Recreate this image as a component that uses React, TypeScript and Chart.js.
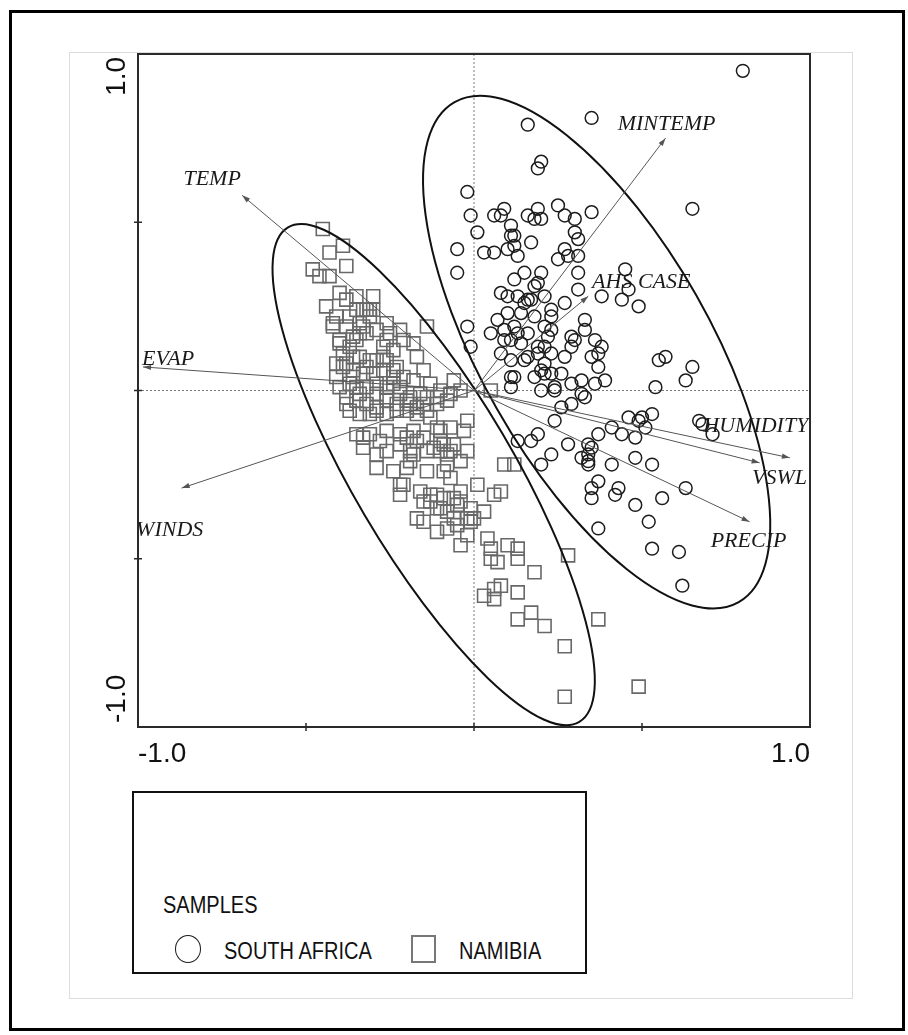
import React, { useEffect, useRef } from 'react';
import { Chart, registerables } from 'chart.js';

Chart.register(...registerables);

// Sample scores on the first two ordination axes
const southAfricaScores: [number, number][] = [
  [0.80, 0.95], [0.35, 0.81], [0.16, 0.79], [0.20, 0.68], [0.19, 0.66], [-0.02, 0.59], [-0.01, 0.52],
  [0.06, 0.52], [0.08, 0.52], [0.09, 0.54], [0.01, 0.47], [0.11, 0.49], [0.11, 0.46], [0.12, 0.46],
  [0.16, 0.52], [0.18, 0.51], [0.19, 0.54], [0.20, 0.51], [0.25, 0.55], [0.27, 0.52], [0.30, 0.51],
  [0.35, 0.53], [0.65, 0.54], [-0.05, 0.42], [0.03, 0.41], [0.06, 0.41], [0.10, 0.42], [0.12, 0.43],
  [0.13, 0.40], [0.17, 0.44], [0.30, 0.47], [0.31, 0.45], [0.27, 0.42], [0.28, 0.40], [0.31, 0.40],
  [0.25, 0.39], [-0.05, 0.35], [0.15, 0.35], [0.12, 0.33], [0.20, 0.35], [0.19, 0.32], [0.18, 0.31],
  [0.31, 0.35], [0.31, 0.30], [0.45, 0.36], [0.46, 0.30], [0.38, 0.28], [0.44, 0.27], [0.49, 0.25],
  [0.08, 0.29], [0.10, 0.28], [0.13, 0.28], [0.15, 0.26], [0.16, 0.27], [0.17, 0.27], [0.21, 0.28],
  [0.27, 0.26], [0.10, 0.23], [0.07, 0.21], [0.14, 0.23], [0.18, 0.22], [0.23, 0.24], [0.23, 0.22],
  [0.33, 0.21], [0.33, 0.18], [-0.02, 0.19], [0.05, 0.17], [0.09, 0.18], [0.12, 0.19], [0.13, 0.17],
  [0.16, 0.17], [0.21, 0.19], [0.23, 0.18], [0.22, 0.16], [0.29, 0.16], [0.30, 0.15], [0.36, 0.15],
  [-0.01, 0.13], [0.09, 0.15], [0.11, 0.15], [0.14, 0.14], [0.38, 0.13], [0.19, 0.13], [0.21, 0.13],
  [0.08, 0.11], [0.11, 0.09], [0.15, 0.09], [0.16, 0.10], [0.19, 0.11], [0.21, 0.08], [0.20, 0.06],
  [0.21, 0.05], [0.23, 0.05], [0.23, 0.11], [0.27, 0.10], [0.29, 0.13], [0.35, 0.10], [0.37, 0.11],
  [0.37, 0.07], [0.26, 0.05], [0.18, 0.04], [0.20, 0.00], [0.24, 0.01], [0.24, 0.00], [0.29, 0.02],
  [0.32, 0.03], [0.36, 0.02], [0.39, 0.03], [0.11, 0.04], [0.12, 0.04], [0.11, 0.01], [0.32, -0.01],
  [0.33, -0.02], [0.26, -0.05], [0.29, -0.04], [0.24, -0.09], [0.54, 0.01], [0.55, 0.09], [0.57, 0.10],
  [0.65, 0.07], [0.63, 0.03], [0.67, -0.09], [0.68, -0.10], [0.71, -0.13], [0.46, -0.08], [0.50, -0.08],
  [0.53, -0.07], [0.49, -0.09], [0.51, -0.11], [0.41, -0.11], [0.44, -0.13], [0.48, -0.14], [0.37, -0.13],
  [0.13, -0.15], [0.17, -0.15], [0.19, -0.13], [0.28, -0.16], [0.23, -0.19], [0.20, -0.22], [0.34, -0.16],
  [0.35, -0.17], [0.34, -0.19], [0.34, -0.21], [0.34, -0.22], [0.32, -0.20], [0.41, -0.22], [0.48, -0.20],
  [0.53, -0.22], [0.37, -0.27], [0.35, -0.29], [0.35, -0.32], [0.43, -0.29], [0.42, -0.31], [0.48, -0.34],
  [0.56, -0.32], [0.63, -0.29], [0.52, -0.39], [0.37, -0.41], [0.53, -0.47], [0.61, -0.48], [0.62, -0.58],
];

const namibiaScores: [number, number][] = [
  [-0.45, 0.48], [-0.39, 0.43], [-0.43, 0.41], [-0.38, 0.37], [-0.48, 0.36], [-0.46, 0.34], [-0.43, 0.34],
  [-0.40, 0.29], [-0.44, 0.25], [-0.41, 0.22], [-0.35, 0.24], [-0.33, 0.24], [-0.32, 0.24], [-0.31, 0.24],
  [-0.30, 0.24], [-0.42, 0.20], [-0.42, 0.19], [-0.38, 0.19], [-0.33, 0.19], [-0.31, 0.22], [-0.26, 0.20],
  [-0.22, 0.18], [-0.14, 0.19], [-0.34, 0.17], [-0.32, 0.17], [-0.40, 0.15], [-0.36, 0.16], [-0.40, 0.14],
  [-0.37, 0.13], [-0.35, 0.15], [-0.27, 0.13], [-0.26, 0.15], [-0.24, 0.12], [-0.39, 0.11], [-0.36, 0.10],
  [-0.34, 0.10], [-0.31, 0.09], [-0.29, 0.09], [-0.27, 0.10], [-0.26, 0.09], [-0.23, 0.07], [-0.17, 0.10],
  [-0.15, 0.06], [-0.39, 0.07], [-0.36, 0.06], [-0.33, 0.05], [-0.30, 0.05], [-0.27, 0.06], [-0.24, 0.06],
  [-0.40, 0.01], [-0.37, 0.02], [-0.35, 0.01], [-0.32, 0.01], [-0.29, 0.02], [-0.26, 0.01], [-0.24, 0.02],
  [-0.22, 0.01], [-0.38, -0.02], [-0.34, -0.01], [-0.29, -0.01], [-0.26, -0.02], [-0.22, -0.01], [-0.19, -0.02],
  [-0.16, -0.01], [-0.10, 0.00], [-0.06, 0.03], [-0.04, 0.00], [-0.41, 0.08], [-0.38, 0.08], [-0.24, 0.04],
  [-0.21, 0.04], [-0.18, 0.03], [-0.13, 0.02], [-0.36, 0.04], [-0.41, 0.04], [-0.32, 0.07], [-0.19, -0.04],
  [-0.15, -0.04], [-0.29, 0.18], [-0.25, 0.17], [-0.21, 0.15], [-0.18, 0.14], [-0.34, 0.20], [-0.37, 0.22],
  [-0.38, 0.27], [-0.35, 0.28], [-0.30, 0.28], [-0.38, -0.04], [-0.35, -0.03], [-0.32, -0.04], [-0.29, -0.05],
  [-0.26, -0.03], [-0.23, -0.04], [-0.20, -0.03], [-0.17, -0.05], [-0.14, -0.02], [-0.11, -0.04], [-0.08, -0.03],
  [-0.37, -0.06], [-0.34, -0.07], [-0.31, -0.07], [-0.29, -0.06], [-0.26, -0.07], [-0.23, -0.06], [-0.20, -0.06],
  [-0.17, -0.07], [-0.14, -0.06], [-0.13, -0.08], [-0.02, -0.09], [-0.35, -0.13], [-0.33, -0.14], [-0.31, -0.13],
  [-0.28, -0.15], [-0.26, -0.12], [-0.22, -0.13], [-0.20, -0.14], [-0.18, -0.12], [-0.17, -0.15], [-0.15, -0.14],
  [-0.10, -0.12], [-0.07, -0.11], [-0.03, -0.12], [-0.09, -0.16], [-0.06, -0.16], [-0.02, -0.18], [-0.11, -0.11],
  [-0.10, -0.15], [-0.10, -0.18], [-0.07, -0.18], [-0.33, -0.17], [-0.29, -0.19], [-0.26, -0.18], [-0.22, -0.16],
  [-0.19, -0.18], [-0.12, -0.17], [-0.19, -0.21], [-0.18, -0.19], [-0.14, -0.18], [-0.08, -0.19], [-0.04, -0.21],
  [-0.08, -0.22], [-0.29, -0.23], [-0.24, -0.24], [-0.20, -0.23], [-0.14, -0.24], [-0.09, -0.24], [-0.07, -0.26],
  [-0.22, -0.28], [-0.21, -0.28], [-0.22, -0.31], [-0.16, -0.30], [-0.13, -0.31], [-0.11, -0.31], [-0.09, -0.32],
  [-0.06, -0.32], [-0.04, -0.30], [-0.15, -0.33], [-0.13, -0.33], [-0.11, -0.35], [-0.08, -0.36], [-0.05, -0.34],
  [-0.04, -0.33], [-0.01, -0.35], [0.03, -0.36], [0.00, -0.38], [-0.17, -0.38], [-0.15, -0.39], [-0.11, -0.42],
  [-0.05, -0.40], [-0.02, -0.43], [-0.04, -0.46], [0.01, -0.28], [0.06, -0.31], [0.08, -0.30], [0.09, -0.22],
  [0.12, -0.22], [0.04, -0.44], [0.05, -0.47], [0.05, -0.50], [0.10, -0.46], [0.13, -0.47], [0.13, -0.50],
  [-0.10, -0.35], [-0.06, -0.38], [-0.02, -0.38], [-0.01, -0.39], [-0.08, -0.41], [0.07, -0.51], [0.28, -0.49],
  [0.18, -0.54], [0.03, -0.61], [0.06, -0.62], [0.06, -0.59], [0.08, -0.58], [0.13, -0.60], [0.17, -0.66],
  [0.13, -0.68], [0.21, -0.70], [0.37, -0.68], [0.27, -0.76], [0.49, -0.88], [0.27, -0.91], [0.05, 0.00],
  [-0.07, -0.01], [-0.11, -0.02],
];

// Environmental variable vectors (biplot arrows)
const variableNames = ['TEMP', 'MINTEMP', 'AHS CASE', 'HUMIDITY', 'VSWL', 'PRECIP', 'EVAP', 'WINDS'];
const variableX = [-0.69, 0.57, 0.34, 0.94, 0.85, 0.82, -0.985, -0.87];
const variableY = [0.58, 0.75, 0.28, -0.20, -0.215, -0.39, 0.07, -0.29];

// Group ellipses: centre, semi-axes (axis units) and tilt in degrees
const ellipseGroups = ['SOUTH AFRICA', 'NAMIBIA'];
const ellipseCenterX = [0.365, -0.12];
const ellipseCenterY = [0.114, -0.25];
const ellipseSemiMajor = [0.856, 0.854];
const ellipseSemiMinor = [0.341, 0.238];
const ellipseTiltDeg = [-60.4, -59.5];

// Axis tick labels and minor tick positions
const axisTickValues = [-1, 1];
const axisTickLabels = ['-1.0', '1.0'];
const minorTickValues = [-0.5, 0, 0.5];

// Label placement (pixels, relative to arrow tip)
const labelOffsets: [number, number][] = [
  [-30, -16], [1, -14], [53, -14], [-34, -32], [20, 15], [-1, 19], [25, -8], [-12, 42],
];

const SANS = '"Liberation Sans", Arial, Helvetica, sans-serif';
const SERIF = '"Liberation Serif", "Times New Roman", Times, serif';

const biplotPlugin = {
  id: 'biplotDecorations',
  beforeDatasetsDraw(chart: any) {
    const { ctx, chartArea, scales } = chart;
    const xs = scales.x;
    const ys = scales.y;
    const x0 = xs.getPixelForValue(0);
    const y0 = ys.getPixelForValue(0);
    ctx.save();
    ctx.strokeStyle = '#7a7a7a';
    ctx.lineWidth = 1;
    ctx.setLineDash([2, 2]);
    ctx.beginPath();
    ctx.moveTo(x0, chartArea.top);
    ctx.lineTo(x0, chartArea.bottom);
    ctx.moveTo(chartArea.left, y0);
    ctx.lineTo(chartArea.right, y0);
    ctx.stroke();
    ctx.restore();
  },
  afterDatasetsDraw(chart: any) {
    const { ctx, chartArea, scales } = chart;
    const xs = scales.x;
    const ys = scales.y;
    const unitX = xs.getPixelForValue(1) - xs.getPixelForValue(0);
    const unitY = ys.getPixelForValue(0) - ys.getPixelForValue(1);

    ctx.save();
    // ellipses
    ctx.strokeStyle = '#111';
    ctx.lineWidth = 2;
    ellipseGroups.forEach((_, i) => {
      ctx.beginPath();
      ctx.ellipse(
        xs.getPixelForValue(ellipseCenterX[i]),
        ys.getPixelForValue(ellipseCenterY[i]),
        ellipseSemiMajor[i] * unitX,
        ellipseSemiMinor[i] * unitY,
        (-ellipseTiltDeg[i] * Math.PI) / 180,
        0,
        Math.PI * 2
      );
      ctx.stroke();
    });

    // arrows
    const ox = xs.getPixelForValue(0);
    const oy = ys.getPixelForValue(0);
    ctx.strokeStyle = '#555';
    ctx.fillStyle = '#555';
    ctx.lineWidth = 1;
    variableNames.forEach((name, i) => {
      const hx = xs.getPixelForValue(variableX[i]);
      const hy = ys.getPixelForValue(variableY[i]);
      const ang = Math.atan2(hy - oy, hx - ox);
      ctx.beginPath();
      ctx.moveTo(ox, oy);
      ctx.lineTo(hx, hy);
      ctx.stroke();
      const len = 8;
      const hw = 2.6;
      const bx = hx - len * Math.cos(ang);
      const by = hy - len * Math.sin(ang);
      ctx.beginPath();
      ctx.moveTo(hx, hy);
      ctx.lineTo(bx + hw * Math.sin(ang), by - hw * Math.cos(ang));
      ctx.lineTo(bx - hw * Math.sin(ang), by + hw * Math.cos(ang));
      ctx.closePath();
      ctx.fill();

      ctx.fillStyle = '#1a1a1a';
      ctx.font = `italic 22px ${SERIF}`;
      ctx.textAlign = 'center';
      ctx.textBaseline = 'middle';
      ctx.fillText(name, hx + labelOffsets[i][0], hy + labelOffsets[i][1]);
      ctx.fillStyle = '#555';
    });

    // plot frame
    ctx.strokeStyle = '#2a2a2a';
    ctx.lineWidth = 2;
    ctx.strokeRect(chartArea.left, chartArea.top, chartArea.right - chartArea.left, chartArea.bottom - chartArea.top);

    // tick marks crossing the axes
    ctx.lineWidth = 1.5;
    ctx.beginPath();
    minorTickValues.forEach((v) => {
      const px = xs.getPixelForValue(v);
      ctx.moveTo(px, chartArea.bottom - 4);
      ctx.lineTo(px, chartArea.bottom + 4);
      const py = ys.getPixelForValue(v);
      ctx.moveTo(chartArea.left - 4, py);
      ctx.lineTo(chartArea.left + 4, py);
    });
    ctx.stroke();

    // vertical tick labels on the left axis
    ctx.fillStyle = '#111';
    ctx.font = `28px ${SANS}`;
    ctx.textBaseline = 'alphabetic';
    const baseX = chartArea.left - 13;
    axisTickValues.forEach((v, i) => {
      const py = ys.getPixelForValue(v);
      ctx.save();
      ctx.translate(baseX, v > 0 ? py + 3 : py - 4);
      ctx.rotate(-Math.PI / 2);
      ctx.textAlign = v > 0 ? 'right' : 'left';
      ctx.fillText(axisTickLabels[i], 0, 0);
      ctx.restore();
    });
    ctx.restore();
  },
};

export default function App() {
  const canvasRef = useRef<HTMLCanvasElement | null>(null);

  useEffect(() => {
    const canvas = canvasRef.current;
    if (!canvas) return;
    const chart = new Chart(canvas, {
      type: 'scatter',
      data: {
        datasets: [
          {
            label: 'NAMIBIA',
            data: namibiaScores.map(([x, y]) => ({ x, y })),
            pointStyle: 'rect',
            pointRadius: 9.2,
            borderColor: '#686868',
            borderWidth: 1.6,
            backgroundColor: 'rgba(0,0,0,0)',
          },
          {
            label: 'SOUTH AFRICA',
            data: southAfricaScores.map(([x, y]) => ({ x, y })),
            pointStyle: 'circle',
            pointRadius: 6.4,
            borderColor: '#1c1c1c',
            borderWidth: 1.5,
            backgroundColor: 'rgba(0,0,0,0)',
          },
        ],
      },
      options: {
        responsive: false,
        animation: false,
        devicePixelRatio: 1,
        events: [],
        layout: { autoPadding: false, padding: { top: 2, right: 42, bottom: 0, left: 0 } },
        plugins: { legend: { display: false }, tooltip: { enabled: false } },
        scales: {
          x: {
            type: 'linear',
            min: -1,
            max: 1,
            afterBuildTicks: (s: any) => {
              s.ticks = axisTickValues.map((value) => ({ value }));
            },
            afterFit: (s: any) => {
              s.height = 63;
            },
            grid: { display: false },
            border: { display: false },
            ticks: {
              align: 'inner',
              autoSkip: false,
              maxRotation: 0,
              minRotation: 0,
              padding: 2,
              color: '#111',
              font: { family: SANS, size: 28 },
              callback: (v: any) => axisTickLabels[axisTickValues.indexOf(Number(v))] ?? '',
            },
          },
          y: {
            type: 'linear',
            min: -1,
            max: 1,
            afterFit: (s: any) => {
              s.width = 69;
            },
            grid: { display: false },
            border: { display: false },
            ticks: { display: false },
          },
        },
      },
      plugins: [biplotPlugin],
    } as any);
    return () => chart.destroy();
  }, []);

  const legendText: React.CSSProperties = {
    position: 'absolute',
    fontFamily: SANS,
    fontSize: 20,
    lineHeight: '20px',
    color: '#111',
    whiteSpace: 'nowrap',
    transform: 'scaleY(1.15)',
    transformOrigin: '0 17px',
  };

  return (
    <div style={{ position: 'absolute', left: 0, top: 0, width: 908, height: 1035, background: '#fff' }}>
      <div
        style={{
          position: 'absolute',
          left: 9,
          top: 10,
          width: 896,
          height: 1021,
          border: '3px solid #000',
          boxSizing: 'border-box',
        }}
      />
      <div
        style={{
          position: 'absolute',
          left: 69,
          top: 52,
          width: 784,
          height: 947,
          border: '1px solid #dcdcdc',
          boxSizing: 'border-box',
        }}
      />
      <canvas
        ref={canvasRef}
        width={783}
        height={738}
        style={{ position: 'absolute', left: 69, top: 52, width: 783, height: 738 }}
      />
      <div
        style={{
          position: 'absolute',
          left: 132,
          top: 791,
          width: 455,
          height: 183,
          border: '2.5px solid #111',
          boxSizing: 'border-box',
        }}
      />
      <span style={{ ...legendText, left: 163, top: 896 }}>SAMPLES</span>
      <div
        style={{
          position: 'absolute',
          left: 175,
          top: 935,
          width: 26,
          height: 28,
          borderRadius: '50%',
          border: '1.5px solid #1c1c1c',
          boxSizing: 'border-box',
        }}
      />
      <span style={{ ...legendText, left: 224, top: 942 }}>SOUTH AFRICA</span>
      <div
        style={{
          position: 'absolute',
          left: 411,
          top: 935,
          width: 25,
          height: 28,
          border: '2px solid #777',
          boxSizing: 'border-box',
        }}
      />
      <span style={{ ...legendText, left: 459, top: 942 }}>NAMIBIA</span>
    </div>
  );
}
